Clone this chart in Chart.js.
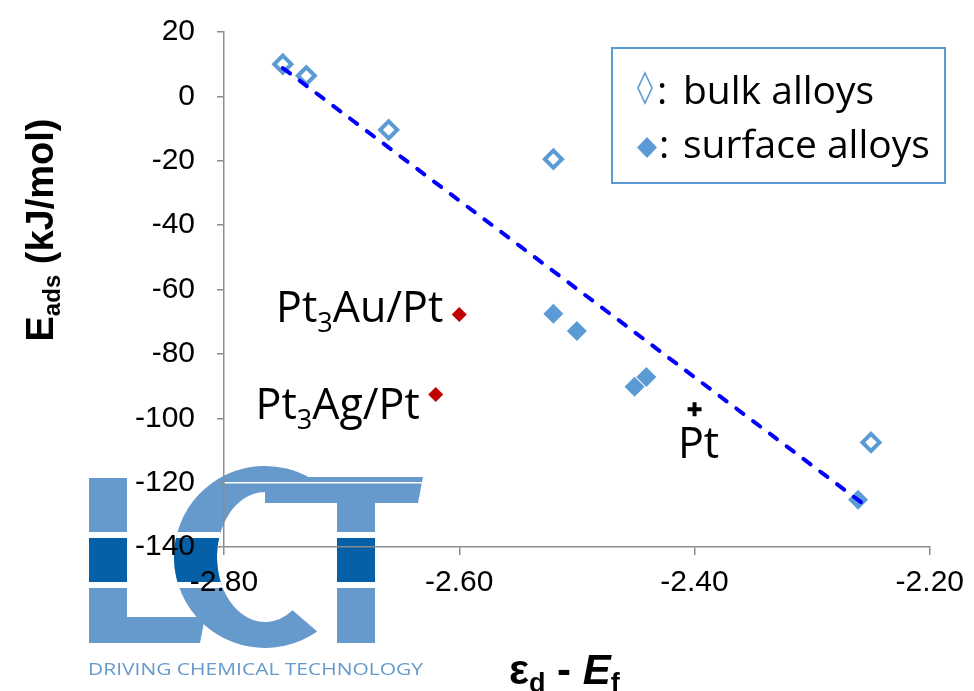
<!DOCTYPE html>
<html>
<head>
<meta charset="utf-8">
<script src="https://cdn.jsdelivr.net/npm/chart.js@4.4.1/dist/chart.umd.min.js"></script>
<style>
  html, body { margin: 0; padding: 0; background: #fff; }
  #wrap { width: 974px; height: 691px; position: relative; }
</style>
</head>
<body>
<div id="wrap"><canvas id="chart"></canvas></div>
<script>
// values
const bulkX = [-2.75, -2.73, -2.66, -2.52, -2.25];
const bulkY = [10, 6.4, -10.4, -19.5, -107.5];
const surfaceX = [-2.52, -2.50, -2.451, -2.441, -2.261];
const surfaceY = [-67.5, -72.9, -90.2, -87.2, -125.3];
const refNames = ["Pt3Au/Pt", "Pt3Ag/Pt"];
const refX = [-2.60, -2.62];
const refY = [-67.8, -92.6];
const ptX = [-2.40];
const ptY = [-97.2];
const trendX = [-2.75, -2.254];
const trendY = [8.8, -127.3];
const xTicks = [-2.8, -2.6, -2.4, -2.2];
const yTicks = [-140, -120, -100, -80, -60, -40, -20, 0, 20];

const AXIS_GREY = "#8c8c8c";
const MARKER_BLUE = "#5b9bd5";
const RED = "#c00000";
const LOGO_LIGHT = "#6699cc";
const LOGO_DARK = "#0560a8";
const TEXT_FONT = "'Open Sans', 'Noto Sans', sans-serif";
const AXIS_FONT = "'Liberation Sans', Arial, sans-serif";

function toPoints(xs, ys) {
  return xs.map((x, i) => ({ x: x, y: ys[i] }));
}

// text made of several runs, for subscripts and mixed styles
function drawRuns(ctx, runs, x, y, align) {
  let total = 0;
  runs.forEach(r => { ctx.font = r.font; r.w = ctx.measureText(r.text).width; total += r.w; });
  let cx = align === "right" ? x - total : align === "center" ? x - total / 2 : x;
  ctx.textAlign = "left";
  ctx.textBaseline = "alphabetic";
  runs.forEach(r => {
    ctx.font = r.font;
    ctx.fillStyle = r.color || "#000";
    ctx.fillText(r.text, cx, y + (r.dy || 0));
    cx += r.w;
  });
}

// the LCT logo behind the plot
function logoShapes(ctx, color) {
  ctx.fillStyle = color;
  // L
  ctx.fillRect(89, 478, 38, 165);
  ctx.beginPath();
  ctx.moveTo(89, 617); ctx.lineTo(205, 617); ctx.lineTo(200, 643); ctx.lineTo(89, 643);
  ctx.closePath(); ctx.fill();
  // C
  const a0 = 55 * Math.PI / 180, a1 = 300 * Math.PI / 180;
  ctx.beginPath();
  ctx.arc(265, 557, 91, a0, a1, false);
  ctx.ellipse(265, 557, 48, 65, 0, a1, a0, true);
  ctx.closePath(); ctx.fill();
  // T
  ctx.beginPath();
  ctx.moveTo(265, 477); ctx.lineTo(423, 477); ctx.lineTo(418, 503); ctx.lineTo(265, 503);
  ctx.closePath(); ctx.fill();
  ctx.fillRect(337, 477, 38, 166);
}

const logoPlugin = {
  id: "logo",
  beforeDraw(chart) {
    const ctx = chart.ctx;
    ctx.save();
    logoShapes(ctx, LOGO_LIGHT);
    ctx.save();
    ctx.beginPath(); ctx.rect(0, 538, 500, 44); ctx.clip();
    logoShapes(ctx, LOGO_DARK);
    ctx.restore();
    ctx.save();
    ctx.beginPath(); ctx.rect(0, 532, 500, 6); ctx.rect(0, 582, 500, 6); ctx.clip();
    logoShapes(ctx, "#fff");
    ctx.restore();
    // tagline, stretched to the logo width
    ctx.font = "17px " + TEXT_FONT;
    ctx.fillStyle = LOGO_LIGHT;
    ctx.textBaseline = "alphabetic";
    const txt = "DRIVING CHEMICAL TECHNOLOGY";
    const w = ctx.measureText(txt).width;
    ctx.translate(88, 675);
    ctx.scale(335 / w, 1);
    ctx.fillText(txt, 0, 0);
    ctx.restore();
  }
};

const labelPlugin = {
  id: "labels",
  afterDatasetsDraw(chart) {
    const ctx = chart.ctx;
    const big = "43px " + TEXT_FONT, sub = "27px " + TEXT_FONT;
    ctx.save();
    const refMeta = chart.getDatasetMeta(3);
    refNames.forEach((name, i) => {
      const p = refMeta.data[i];
      const m = name.match(/^(Pt)(\d)(.*)$/);
      const dy = i === 0 ? 7 : 25;
      drawRuns(ctx, [
        { text: m[1], font: big },
        { text: m[2], font: sub, dy: 10 },
        { text: m[3], font: big }
      ], p.x - 16, p.y + dy, "right");
    });
    const pt = chart.getDatasetMeta(4).data[0];
    drawRuns(ctx, [{ text: "Pt", font: big }], pt.x + 4, pt.y + 49, "center");
    ctx.restore();
  },
  afterDraw(chart) {
    const ctx = chart.ctx;
    ctx.save();
    // legend box
    ctx.strokeStyle = MARKER_BLUE;
    ctx.lineWidth = 2;
    ctx.strokeRect(612, 48, 333, 135);
    ctx.lineWidth = 1.6;
    ctx.beginPath();
    ctx.moveTo(645, 73); ctx.lineTo(652, 88); ctx.lineTo(645, 103); ctx.lineTo(638, 88);
    ctx.closePath(); ctx.stroke();
    ctx.fillStyle = MARKER_BLUE;
    ctx.beginPath();
    ctx.moveTo(647, 137); ctx.lineTo(657, 147.5); ctx.lineTo(647, 158); ctx.lineTo(637, 147.5);
    ctx.closePath(); ctx.fill();
    const lf = "39px " + TEXT_FONT;
    drawRuns(ctx, [{ text: ":", font: lf }], 657, 104, "left");
    drawRuns(ctx, [{ text: "bulk alloys", font: lf }], 683, 104, "left");
    drawRuns(ctx, [{ text: ":", font: lf }], 659, 158, "left");
    drawRuns(ctx, [{ text: "surface alloys", font: lf }], 683, 158, "left");

    // axis titles
    const bf = "bold 38px " + AXIS_FONT, bs = "bold 24px " + AXIS_FONT;
    ctx.translate(53, 230);
    ctx.rotate(-Math.PI / 2);
    drawRuns(ctx, [
      { text: "E", font: bf },
      { text: "ads", font: bs, dy: 7 },
      { text: " (kJ/mol)", font: bf }
    ], 0, 0, "center");
    ctx.setTransform(1, 0, 0, 1, 0, 0);
    drawRuns(ctx, [
      { text: "\u03b5", font: "bold 42px " + AXIS_FONT },
      { text: "d", font: "bold 27px " + AXIS_FONT, dy: 8 },
      { text: " - ", font: "bold 42px " + AXIS_FONT },
      { text: "E", font: "italic bold 42px " + AXIS_FONT },
      { text: "f", font: "bold 27px " + AXIS_FONT, dy: 8 }
    ], 509, 684, "left");
    ctx.restore();
  }
};

new Chart(document.getElementById("chart"), {
  type: "scatter",
  data: {
    datasets: [
      {
        label: "trend",
        type: "line",
        data: toPoints(trendX, trendY),
        borderColor: "#0000ff",
        borderWidth: 4,
        borderDash: [9, 12],
        borderCapStyle: "round",
        pointRadius: 0,
        fill: false
      },
      {
        label: "bulk alloys",
        data: toPoints(bulkX, bulkY),
        pointStyle: "rectRot",
        pointRadius: 8.5,
        borderWidth: 4,
        borderColor: MARKER_BLUE,
        backgroundColor: "#fff"
      },
      {
        label: "surface alloys",
        data: toPoints(surfaceX, surfaceY),
        pointStyle: "rectRot",
        pointRadius: 10,
        borderWidth: 0,
        backgroundColor: MARKER_BLUE
      },
      {
        label: "reference",
        data: toPoints(refX, refY),
        pointStyle: "rectRot",
        pointRadius: 7.5,
        borderWidth: 0,
        backgroundColor: RED
      },
      {
        label: "Pt",
        data: toPoints(ptX, ptY),
        pointStyle: "cross",
        pointRadius: 7,
        borderWidth: 4,
        borderColor: "#000"
      }
    ]
  },
  options: {
    animation: false,
    responsive: true,
    maintainAspectRatio: false,
    layout: { padding: { top: 32, right: 43, left: 0, bottom: 0 } },
    plugins: { legend: { display: false }, tooltip: { enabled: false } },
    scales: {
      x: {
        type: "linear",
        min: -2.8,
        max: -2.2,
        afterBuildTicks: s => { s.ticks = xTicks.map(v => ({ value: v })); },
        afterFit: s => { s.height = 144; },
        ticks: {
          font: { family: AXIS_FONT, size: 30 },
          color: "#000",
          padding: 10,
          maxRotation: 0,
          autoSkip: false,
          callback: v => v.toFixed(2)
        },
        grid: { drawOnChartArea: false, tickLength: 8, color: AXIS_GREY, lineWidth: 1.5 },
        border: { color: AXIS_GREY, width: 1.5 }
      },
      y: {
        min: -140,
        max: 20,
        afterBuildTicks: s => { s.ticks = yTicks.map(v => ({ value: v })); },
        afterFit: s => { s.width = 224; s.paddingTop = 10; s.paddingBottom = 10; },
        ticks: {
          font: { family: AXIS_FONT, size: 30 },
          color: "#000",
          padding: 22,
          callback: v => String(v)
        },
        grid: {
          color: c => (c.tick && c.tick.value === -140 ? "rgba(0,0,0,0)" : "#fff"),
          tickColor: AXIS_GREY,
          lineWidth: 1.5,
          tickLength: 7
        },
        border: { color: AXIS_GREY, width: 1.5 }
      }
    }
  },
  plugins: [logoPlugin, labelPlugin]
});
</script>
</body>
</html>
